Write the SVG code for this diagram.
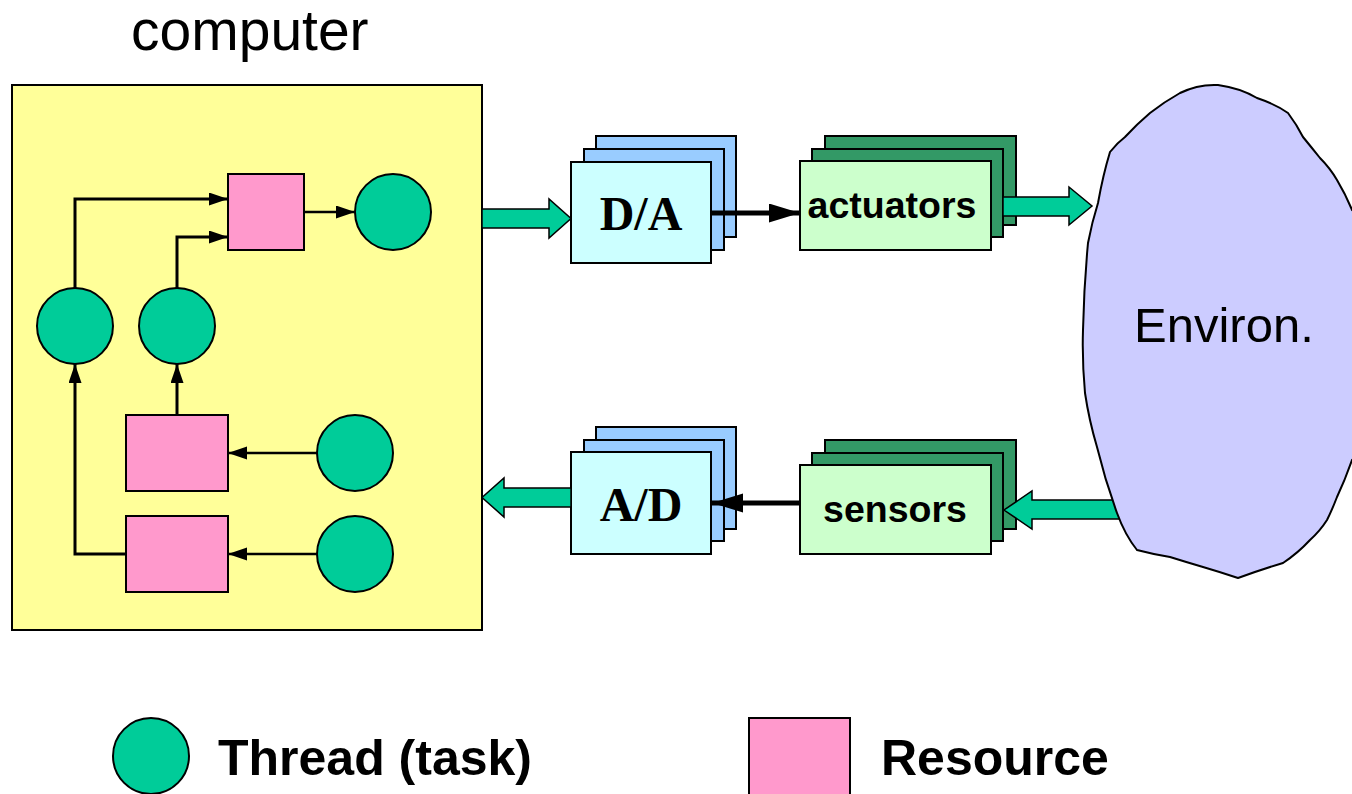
<svg xmlns="http://www.w3.org/2000/svg" width="1352" height="794" viewBox="0 0 1352 794">
<style>
.thread{fill:#00CC99;stroke:#000;stroke-width:2}
.res{fill:#FF99CC;stroke:#000;stroke-width:2}
.conn{fill:none;stroke:#000;stroke-width:3}
.fat{fill:#00CC99;stroke:#000;stroke-width:1.5}
.cyan{fill:#CCFFFF;stroke:#000;stroke-width:2}
.blue{fill:#99CCFF;stroke:#000;stroke-width:2}
.lgreen{fill:#CCFFCC;stroke:#000;stroke-width:2}
.dgreen{fill:#339966;stroke:#000;stroke-width:2}
.sans{font-family:"Liberation Sans",Arial,sans-serif}
.serifb{font-family:"Liberation Serif","Times New Roman",serif;font-weight:bold}
</style>
<defs>
<marker id="ah" markerUnits="userSpaceOnUse" markerWidth="20" markerHeight="14" refX="19" refY="6.5" orient="auto">
<path d="M0,0 L19,6.5 L0,13 z" fill="#000"/>
</marker>
<marker id="ahBig" markerUnits="userSpaceOnUse" markerWidth="32" markerHeight="20" refX="31" refY="9.5" orient="auto">
<path d="M0,0 L31,9.5 L0,19 z" fill="#000"/>
</marker>
</defs>
<rect width="1352" height="794" fill="#fff"/>

<text class="sans" x="131" y="50" font-size="57">computer</text>

<g id="computer">
<rect x="12" y="85" width="470" height="545" fill="#FFFF99" stroke="#000" stroke-width="2"/>
</g>

<g id="res-top"><rect class="res" x="228" y="174" width="76" height="76"/></g>
<g id="thread-out"><circle class="thread" cx="393" cy="212" r="38"/></g>
<g id="thread-left"><circle class="thread" cx="75" cy="326" r="38"/></g>
<g id="thread-mid"><circle class="thread" cx="177" cy="326" r="38"/></g>
<g id="res-mid"><rect class="res" x="126" y="415" width="102" height="76"/></g>
<g id="res-low"><rect class="res" x="126" y="516" width="102" height="76"/></g>
<g id="thread-in1"><circle class="thread" cx="355" cy="453" r="38"/></g>
<g id="thread-in2"><circle class="thread" cx="355" cy="554" r="38"/></g>

<g id="da">
<rect class="blue" x="596" y="136" width="140" height="101"/>
<rect class="blue" x="584" y="149" width="140" height="101"/>
<rect class="cyan" x="571" y="162" width="140" height="101"/>
<text class="serifb" x="641" y="230" font-size="48" text-anchor="middle">D/A</text>
</g>

<g id="actuators">
<rect class="dgreen" x="825" y="136" width="191" height="89"/>
<rect class="dgreen" x="812" y="149" width="191" height="88"/>
<rect class="lgreen" x="800" y="161" width="191" height="89"/>
<text class="sans" x="892" y="218" font-size="37.5" font-weight="bold" text-anchor="middle">actuators</text>
</g>

<g id="ad">
<rect class="blue" x="596" y="427" width="140" height="102"/>
<rect class="blue" x="584" y="440" width="140" height="101"/>
<rect class="cyan" x="571" y="452" width="140" height="102"/>
<text class="serifb" x="641" y="521" font-size="48" text-anchor="middle">A/D</text>
</g>

<g id="sensors">
<rect class="dgreen" x="825" y="440" width="191" height="89"/>
<rect class="dgreen" x="812" y="453" width="191" height="88"/>
<rect class="lgreen" x="800" y="465" width="191" height="89"/>
<text class="sans" x="895" y="522" font-size="37.5" font-weight="bold" text-anchor="middle">sensors</text>
</g>

<g id="connectors">
<path class="conn" d="M75,288 V199 H228" marker-end="url(#ah)"/>
<path class="conn" d="M177,288 V237 H228" marker-end="url(#ah)"/>
<path class="conn" style="stroke-width:2.5" d="M304,212 H355" marker-end="url(#ah)"/>
<path class="conn" d="M177,415 V364" marker-end="url(#ah)"/>
<path class="conn" d="M126,554 H75 V364" marker-end="url(#ah)"/>
<path class="conn" style="stroke-width:2.5" d="M317,453 H228" marker-end="url(#ah)"/>
<path class="conn" style="stroke-width:2.5" d="M317,554 H228" marker-end="url(#ah)"/>
<path class="conn" style="stroke-width:5" d="M711,213 H800" marker-end="url(#ahBig)"/>
<path class="conn" style="stroke-width:5" d="M800,503 H712" marker-end="url(#ahBig)"/>
<polygon class="fat" points="482,209 549,209 549,199 571,218.5 549,238 549,228 482,228"/>
<polygon class="fat" points="1003,197 1069,197 1069,187 1092,206 1069,225 1069,216 1003,216"/>
<polygon class="fat" points="1125,500 1032,500 1032,491 1004,510 1032,529 1032,519 1125,519"/>
<polygon class="fat" points="571,488 504,488 504,478 482,497.5 504,517 504,507 571,507"/>
</g>

<g id="environ">
<path d="M1218,85 Q1240,88 1257,98 Q1275,104 1288,113 Q1297,125 1303,137 Q1312,148 1320,158 Q1330,168 1337,180 Q1346,195 1352,210 L1360,215 L1360,455 L1352,460 Q1345,480 1337,497 Q1332,510 1327,520 Q1320,531 1310,540 Q1298,553 1283,563 Q1260,570 1238,578 Q1220,572 1203,567 Q1186,562 1170,557 Q1152,554 1137,550 Q1125,535 1117,513 Q1105,480 1097,447 Q1089,420 1085,393 Q1082,360 1083,330 Q1084,285 1088,243 Q1092,222 1098,203 Q1103,175 1110,152 Q1117,143 1125,137 Q1137,124 1150,113 Q1164,102 1180,93 Q1198,84 1218,85 Z" fill="#CCCCFF" stroke="#000" stroke-width="2"/>
<text class="sans" x="1134" y="342" font-size="49">Environ.</text>
</g>

<g id="legend-thread">
<circle class="thread" cx="151" cy="756" r="38"/>
<text class="sans" x="218" y="775" font-size="50" font-weight="bold">Thread (task)</text>
</g>
<g id="legend-resource">
<rect class="res" x="749" y="718" width="101" height="90"/>
<text class="sans" x="881" y="775" font-size="50" font-weight="bold">Resource</text>
</g>
</svg>
